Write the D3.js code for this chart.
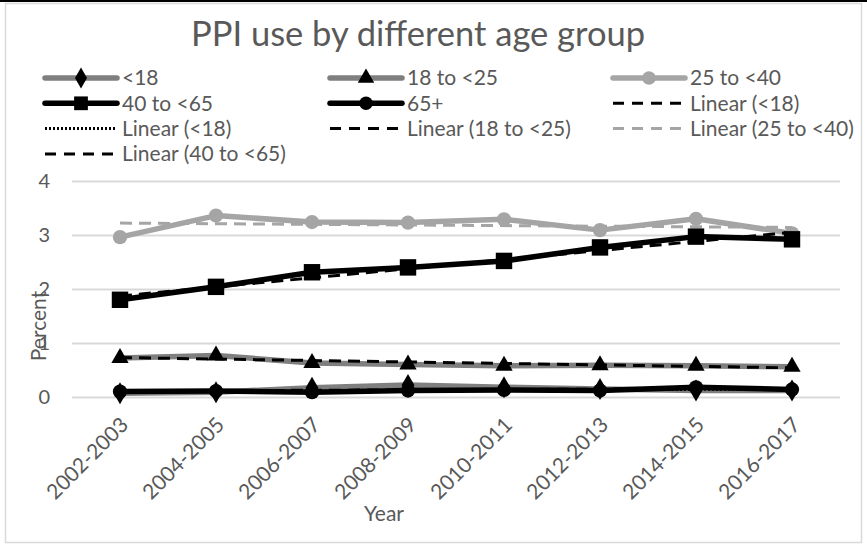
<!DOCTYPE html>
<html><head><meta charset="utf-8">
<script src="https://cdn.jsdelivr.net/npm/d3@7/dist/d3.min.js"></script>
<style>
body{margin:0;background:#fff;}
svg text{font-family:Lato,"Open Sans",sans-serif;fill:#595959;}
</style></head>
<body><svg id="chart" width="867" height="545"></svg>
<script>
const years = ["2002-2003","2004-2005","2006-2007","2008-2009","2010-2011","2012-2013","2014-2015","2016-2017"];
const under18   = [0.07, 0.09, 0.17, 0.22, 0.18, 0.15, 0.12, 0.12];
const age18to25 = [0.72, 0.77, 0.63, 0.60, 0.58, 0.59, 0.58, 0.56];
const age25to40 = [2.96, 3.36, 3.24, 3.23, 3.29, 3.09, 3.30, 3.03];
const age40to65 = [1.80, 2.04, 2.31, 2.40, 2.52, 2.77, 2.97, 2.92];
const age65plus = [0.10, 0.11, 0.09, 0.12, 0.13, 0.12, 0.18, 0.14];
// trendline endpoints (first, last category)
const trendUnder18Dash = [0.11, 0.16];
const trendUnder18Dot  = [0.09, 0.15];
const trend18to25      = [0.73, 0.54];
const trend25to40      = [3.22, 3.14];
const trend40to65      = [1.87, 3.05];
const yTicks = [0,1,2,3,4];
const legendLabels = ["<18","18 to <25","25 to <40","40 to <65","65+","Linear (<18)","Linear (<18)","Linear (18 to <25)","Linear (25 to <40)","Linear (40 to <65)"];

const svg = d3.select("#chart");
svg.append("rect").attr("x",0).attr("y",0).attr("width",867).attr("height",545).attr("fill","#fff");
svg.append("rect").attr("x",0).attr("y",0).attr("width",867).attr("height",2).attr("fill","#000");
svg.append("rect").attr("x",5.5).attr("y",3.5).attr("width",856).attr("height",539)
  .attr("fill","none").attr("stroke","#d9d9d9").attr("stroke-width",1.5);

const x = d3.scalePoint().domain(years).range([72,840]).padding(0.5);
const y = d3.scaleLinear().domain([0,4]).range([397,181]);

// title
svg.append("text").attr("x",418).attr("y",46).attr("text-anchor","middle")
  .style("font-size","34.5px").text("PPI use by different age group");

// grid + y axis
const yAxis = svg.append("g").attr("transform","translate(72,0)")
  .call(d3.axisLeft(y).tickValues(yTicks).tickSize(-768).tickPadding(22).tickFormat(d3.format("d")));
yAxis.select(".domain").remove();
yAxis.selectAll(".tick line").attr("stroke","#d9d9d9").attr("stroke-width",2);
yAxis.selectAll(".tick text").style("font-size","20px").attr("fill","#595959");

// x axis labels
const xAxis = svg.append("g").attr("transform","translate(0,397)")
  .call(d3.axisBottom(x).tickSize(0).tickPadding(0));
xAxis.select(".domain").remove();
xAxis.selectAll(".tick text")
  .style("font-size","21px").attr("fill","#595959")
  .attr("text-anchor","end").attr("dy","0.35em").attr("y",0)
  .attr("transform","translate(4,24) rotate(-45)");

// axis titles
svg.append("text").attr("x",384).attr("y",521).attr("text-anchor","middle")
  .style("font-size","21px").text("Year");
svg.append("text").attr("transform","translate(46,326) rotate(-90)").attr("text-anchor","middle")
  .style("font-size","21px").text("Percent");

const line = d3.line().x((d,i)=>x(years[i])).y(d=>y(d));
const series = [
  {vals:under18, color:"#7f7f7f", mcolor:"#000", shape:"diamond"},
  {vals:age18to25, color:"#7f7f7f", mcolor:"#000", shape:"triangle"},
  {vals:age25to40, color:"#a5a5a5", mcolor:"#a5a5a5", shape:"circle"},
  {vals:age40to65, color:"#000", mcolor:"#000", shape:"square"},
  {vals:age65plus, color:"#000", mcolor:"#000", shape:"circle"}
];
const trends = [
  {vals:trendUnder18Dash, color:"#000", dash:"12,7"},
  {vals:trendUnder18Dot, color:"#000", dash:"2,2"},
  {vals:trend18to25, color:"#000", dash:"12,7"},
  {vals:trend25to40, color:"#a5a5a5", dash:"12,7"},
  {vals:trend40to65, color:"#000", dash:"12,7"}
];
function symbolPath(shape, size){
  const t = {diamond:d3.symbolDiamond, triangle:d3.symbolTriangle, circle:d3.symbolCircle, square:d3.symbolSquare}[shape];
  return d3.symbol().type(t).size(size)();
}
const sizes = {diamond:140, triangle:130, circle:160, square:270};

const gLines = svg.append("g");
series.forEach(s=>{
  gLines.append("path").datum(s.vals).attr("d",line).attr("fill","none")
    .attr("stroke",s.color).attr("stroke-width",5.5).attr("stroke-linejoin","round").attr("stroke-linecap","round");
});
const gTrend = svg.append("g");
trends.forEach(t=>{
  gTrend.append("line")
    .attr("x1",x(years[0])).attr("x2",x(years[years.length-1]))
    .attr("y1",y(t.vals[0])).attr("y2",y(t.vals[1]))
    .attr("stroke",t.color).attr("stroke-width",3).attr("stroke-dasharray",t.dash);
});
const gMarks = svg.append("g");
series.forEach(s=>{
  gMarks.selectAll(null).data(s.vals).enter().append("path")
    .attr("d",symbolPath(s.shape, sizes[s.shape]))
    .attr("transform",(d,i)=>`translate(${x(years[i])},${y(d)})`)
    .attr("fill",s.mcolor);
});

// legend
const legendCols = [45,330,613];
const rowY = r => 78 + r*25.3;
const legendItems = [
  {type:"series", s:series[0]},{type:"series", s:series[1]},{type:"series", s:series[2]},
  {type:"series", s:series[3]},{type:"series", s:series[4]},{type:"trend", t:trends[0]},
  {type:"trend", t:trends[1]},{type:"trend", t:trends[2]},{type:"trend", t:trends[3]},
  {type:"trend", t:trends[4]}
];
const gLeg = svg.append("g");
legendItems.forEach((it,i)=>{
  const cx = legendCols[i%3], cy = rowY(Math.floor(i/3));
  const g = gLeg.append("g").attr("transform",`translate(${cx},${cy})`);
  if(it.type==="series"){
    g.append("line").attr("x1",0).attr("x2",72).attr("y1",0).attr("y2",0)
      .attr("stroke",it.s.color).attr("stroke-width",5.5).attr("stroke-linecap","round");
    g.append("path").attr("d",symbolPath(it.s.shape, sizes[it.s.shape]*(it.s.shape==="square"?0.7:0.9)))
      .attr("transform","translate(36,0)").attr("fill",it.s.mcolor);
  } else {
    g.append("line").attr("x1",0).attr("x2",72).attr("y1",0).attr("y2",0)
      .attr("stroke",it.t.color).attr("stroke-width",3).attr("stroke-dasharray",it.t.dash==="2,2"?"2,2":"11,8");
  }
  g.append("text").attr("x",77).attr("y",0).attr("dy","0.35em").style("font-size","21px").text(legendLabels[i]);
});
</script></body></html>
